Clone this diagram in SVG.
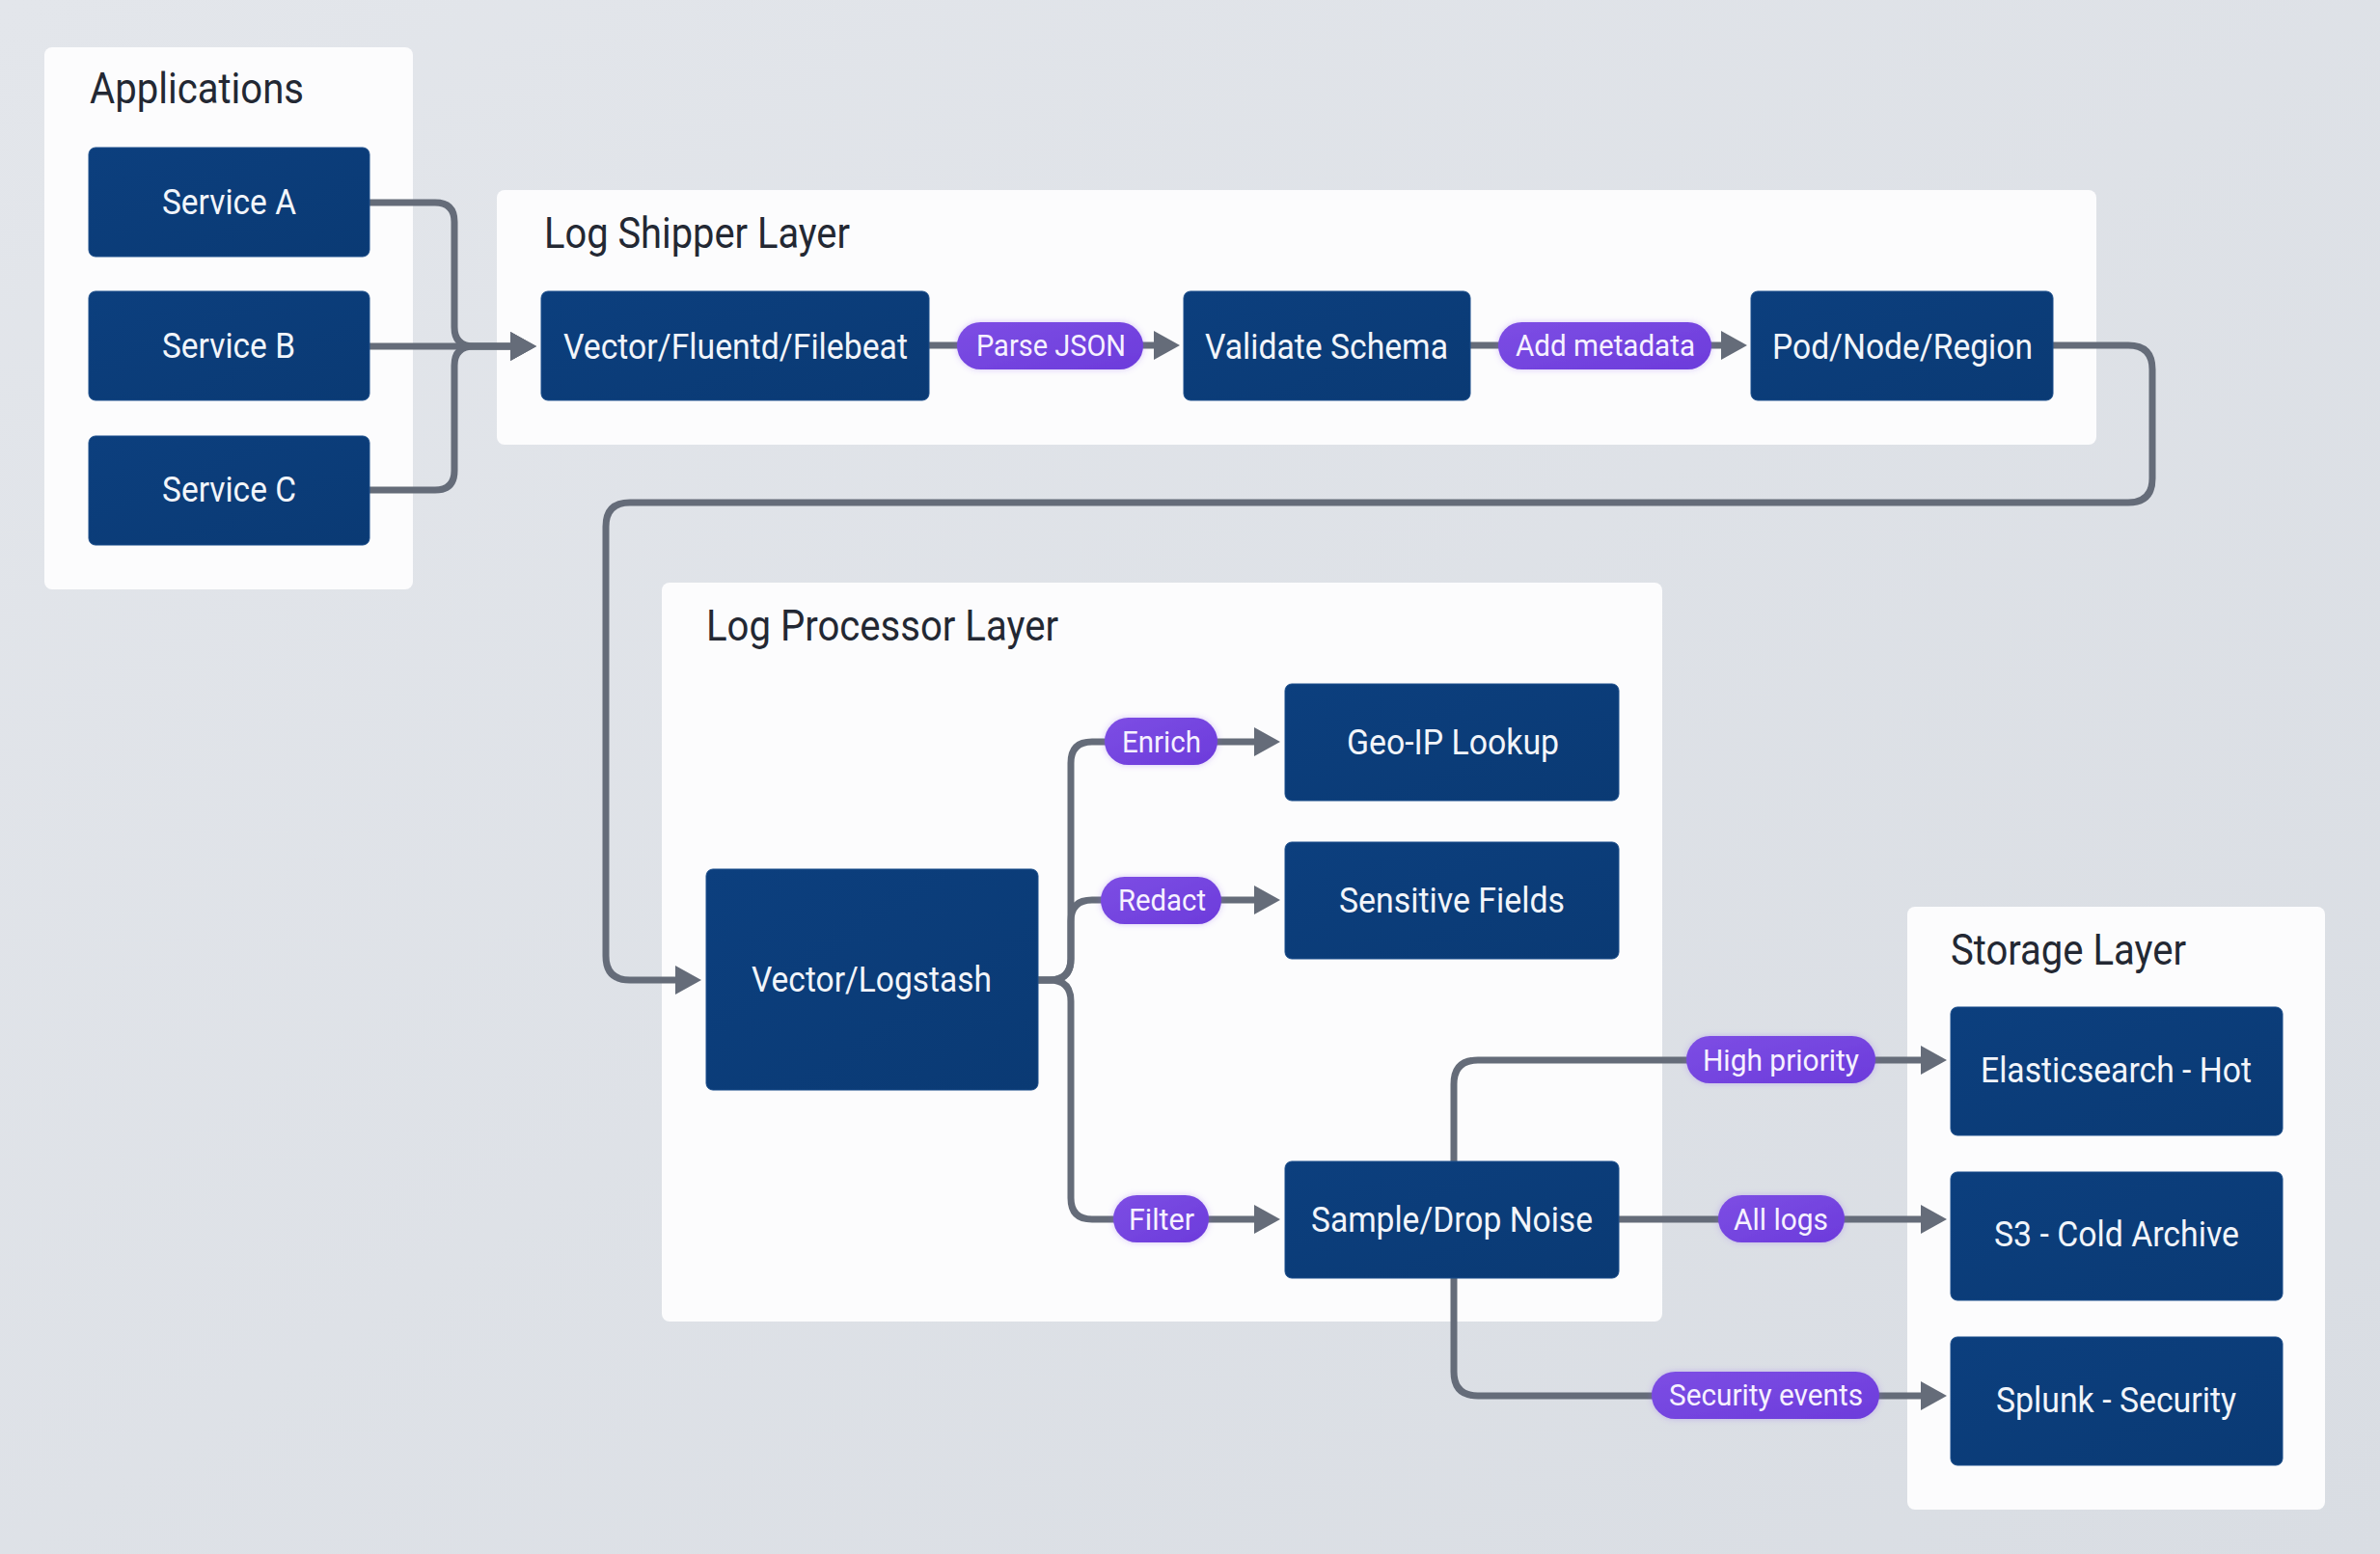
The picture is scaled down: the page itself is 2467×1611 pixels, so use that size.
<svg xmlns="http://www.w3.org/2000/svg" width="2467" height="1611" viewBox="0 0 2467 1611">
<defs>
<linearGradient id="bg" x1="0" y1="0" x2="1" y2="1">
<stop offset="0" stop-color="#e3e6eb"/>
<stop offset="1" stop-color="#d9dde3"/>
</linearGradient>
<linearGradient id="pillg" x1="0" y1="0" x2="1" y2="1">
<stop offset="0" stop-color="#7d4ee4"/>
<stop offset="1" stop-color="#6c3bdb"/>
</linearGradient>
<linearGradient id="nodeg" x1="0" y1="0" x2="1" y2="1">
<stop offset="0" stop-color="#0c3f7e"/>
<stop offset="1" stop-color="#0a3a74"/>
</linearGradient>
<marker id="arr" viewBox="0 0 27 30" refX="1" refY="15" markerWidth="27" markerHeight="30" markerUnits="userSpaceOnUse" orient="auto">
<path d="M0,0 L27,15 L0,30 Z" fill="#656c79"/>
</marker>
<filter id="glow" x="-20%" y="-40%" width="140%" height="180%">
<feDropShadow dx="0" dy="0" stdDeviation="3" flood-color="#8a5cf0" flood-opacity="0.35"/>
</filter>
</defs>
<style>
.cont{fill:#fcfcfd;}
.title{font-family:Roboto,"Liberation Sans",sans-serif;font-size:44px;fill:#232833;}
.node rect{fill:url(#nodeg);stroke:#1d4f8c;stroke-width:1;}
.node text{font-family:Roboto,"Liberation Sans",sans-serif;font-size:37px;fill:#f2f5fa;}
.pill rect{fill:url(#pillg);filter:url(#glow);}
.pill text{font-family:Roboto,"Liberation Sans",sans-serif;font-size:31px;fill:#f6f1ff;}
.edge{fill:none;stroke:#656c79;stroke-width:7;}
</style>
<rect x="0" y="0" width="2467" height="1611" fill="url(#bg)"/>

<g id="containers">
<g id="applications">
<rect class="cont" x="46" y="49" width="382" height="562" rx="8"/>
<text class="title" x="93" y="107" textLength="222" lengthAdjust="spacingAndGlyphs">Applications</text>
</g>
<g id="log-shipper-layer">
<rect class="cont" x="515" y="197" width="1658" height="264" rx="8"/>
<text class="title" x="564" y="257" textLength="317" lengthAdjust="spacingAndGlyphs">Log Shipper Layer</text>
</g>
<g id="log-processor-layer">
<rect class="cont" x="686" y="604" width="1037" height="766" rx="8"/>
<text class="title" x="732" y="664" textLength="365" lengthAdjust="spacingAndGlyphs">Log Processor Layer</text>
</g>
<g id="storage-layer">
<rect class="cont" x="1977" y="940" width="433" height="625" rx="8"/>
<text class="title" x="2022" y="1000" textLength="244" lengthAdjust="spacingAndGlyphs">Storage Layer</text>
</g>
</g>

<g id="connectors">
<path class="edge" d="M383,210 H451 Q471,210 471,230 V339 Q471,359 491,359 H530" marker-end="url(#arr)"/>
<path class="edge" d="M383,359 H530" marker-end="url(#arr)"/>
<path class="edge" d="M383,508 H451 Q471,508 471,488 V379 Q471,359 491,359 H530" marker-end="url(#arr)"/>
<path class="edge" d="M963,358 H1197" marker-end="url(#arr)"/>
<path class="edge" d="M1524,358 H1785" marker-end="url(#arr)"/>
<path class="edge" d="M2128,358 H2206 Q2231,358 2231,383 V496 Q2231,521 2206,521 H653 Q628,521 628,546 V991 Q628,1016 653,1016 H701" marker-end="url(#arr)"/>
<path class="edge" d="M1076,1016 H1088 Q1110,1016 1110,994 V791 Q1110,769 1132,769 H1301" marker-end="url(#arr)"/>
<path class="edge" d="M1076,1016 H1088 Q1110,1016 1110,994 V955 Q1110,933 1132,933 H1301" marker-end="url(#arr)"/>
<path class="edge" d="M1076,1016 H1088 Q1110,1016 1110,1038 V1242 Q1110,1264 1132,1264 H1301" marker-end="url(#arr)"/>
<path class="edge" d="M1507,1204 V1124 Q1507,1099 1532,1099 H1992" marker-end="url(#arr)"/>
<path class="edge" d="M1678,1264 H1992" marker-end="url(#arr)"/>
<path class="edge" d="M1507,1325 V1422 Q1507,1447 1532,1447 H1992" marker-end="url(#arr)"/>
</g>

<g id="nodes">
<g id="service-a" class="node"><rect x="92" y="153" width="291" height="113" rx="7"/><text x="168" y="222" textLength="139" lengthAdjust="spacingAndGlyphs">Service A</text></g>
<g id="service-b" class="node"><rect x="92" y="302" width="291" height="113" rx="7"/><text x="168" y="371" textLength="138" lengthAdjust="spacingAndGlyphs">Service B</text></g>
<g id="service-c" class="node"><rect x="92" y="452" width="291" height="113" rx="7"/><text x="168" y="520" textLength="139" lengthAdjust="spacingAndGlyphs">Service C</text></g>
<g id="vector-fluentd-filebeat" class="node"><rect x="561" y="302" width="402" height="113" rx="7"/><text x="584" y="372" textLength="357" lengthAdjust="spacingAndGlyphs">Vector/Fluentd/Filebeat</text></g>
<g id="validate-schema" class="node"><rect x="1227" y="302" width="297" height="113" rx="7"/><text x="1249" y="372" textLength="252" lengthAdjust="spacingAndGlyphs">Validate Schema</text></g>
<g id="pod-node-region" class="node"><rect x="1815" y="302" width="313" height="113" rx="7"/><text x="1837" y="372" textLength="270" lengthAdjust="spacingAndGlyphs">Pod/Node/Region</text></g>
<g id="vector-logstash" class="node"><rect x="732" y="901" width="344" height="229" rx="7"/><text x="779" y="1028" textLength="249" lengthAdjust="spacingAndGlyphs">Vector/Logstash</text></g>
<g id="geo-ip-lookup" class="node"><rect x="1332" y="709" width="346" height="121" rx="7"/><text x="1396" y="782" textLength="220" lengthAdjust="spacingAndGlyphs">Geo-IP Lookup</text></g>
<g id="sensitive-fields" class="node"><rect x="1332" y="873" width="346" height="121" rx="7"/><text x="1388" y="946" textLength="234" lengthAdjust="spacingAndGlyphs">Sensitive Fields</text></g>
<g id="sample-drop-noise" class="node"><rect x="1332" y="1204" width="346" height="121" rx="7"/><text x="1359" y="1277" textLength="292" lengthAdjust="spacingAndGlyphs">Sample/Drop Noise</text></g>
<g id="elasticsearch-hot" class="node"><rect x="2022" y="1044" width="344" height="133" rx="7"/><text x="2053" y="1122" textLength="281" lengthAdjust="spacingAndGlyphs">Elasticsearch - Hot</text></g>
<g id="s3-cold-archive" class="node"><rect x="2022" y="1215" width="344" height="133" rx="7"/><text x="2067" y="1292" textLength="254" lengthAdjust="spacingAndGlyphs">S3 - Cold Archive</text></g>
<g id="splunk-security" class="node"><rect x="2022" y="1386" width="344" height="133" rx="7"/><text x="2069" y="1464" textLength="249" lengthAdjust="spacingAndGlyphs">Splunk - Security</text></g>
</g>

<g id="edge-labels">
<g id="label-parse-json" class="pill"><rect x="992" y="334" width="193" height="49" rx="24.5"/><text x="1012" y="369" textLength="155" lengthAdjust="spacingAndGlyphs">Parse JSON</text></g>
<g id="label-add-metadata" class="pill"><rect x="1553" y="334" width="221" height="49" rx="24.5"/><text x="1571" y="369" textLength="186" lengthAdjust="spacingAndGlyphs">Add metadata</text></g>
<g id="label-enrich" class="pill"><rect x="1145" y="744" width="117" height="49" rx="24.5"/><text x="1163" y="780" textLength="82" lengthAdjust="spacingAndGlyphs">Enrich</text></g>
<g id="label-redact" class="pill"><rect x="1141" y="909" width="125" height="49" rx="24.5"/><text x="1159" y="944" textLength="91" lengthAdjust="spacingAndGlyphs">Redact</text></g>
<g id="label-filter" class="pill"><rect x="1154" y="1239" width="99" height="49" rx="24.5"/><text x="1170" y="1275" textLength="68" lengthAdjust="spacingAndGlyphs">Filter</text></g>
<g id="label-high-priority" class="pill"><rect x="1748" y="1074" width="196" height="49" rx="24.5"/><text x="1765" y="1110" textLength="162" lengthAdjust="spacingAndGlyphs">High priority</text></g>
<g id="label-all-logs" class="pill"><rect x="1781" y="1239" width="131" height="49" rx="24.5"/><text x="1797" y="1275" textLength="98" lengthAdjust="spacingAndGlyphs">All logs</text></g>
<g id="label-security-events" class="pill"><rect x="1712" y="1422" width="236" height="49" rx="24.5"/><text x="1730" y="1457" textLength="201" lengthAdjust="spacingAndGlyphs">Security events</text></g>
</g>
</svg>
